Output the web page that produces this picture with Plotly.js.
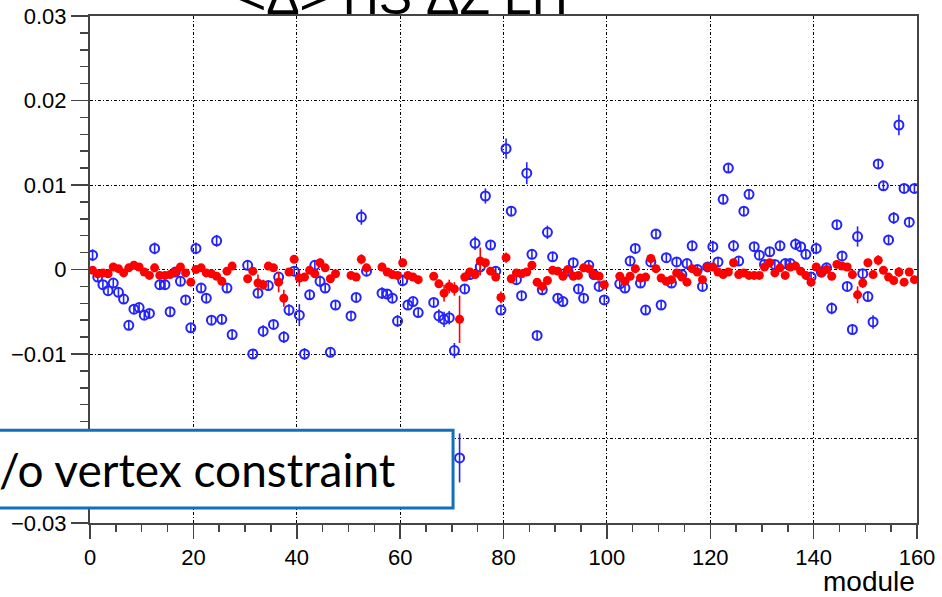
<!DOCTYPE html>
<html>
<head>
<meta charset="utf-8">
<script src="https://cdn.plot.ly/plotly-3.0.1.min.js"></script>
<style>
html,body{margin:0;padding:0;background:#fff;}
#chart{width:942px;height:597px;}
</style>
</head>
<body>
<div id="chart"></div>
<script>
// module bin centres (modules without entries are omitted)
const modules = [0,1,2,3,4,5,6,7,8,9,10,11,12,13,14,15,16,17,18,19,20,21,22,23,24,25,26,27,
  30,31,32,33,34,35,36,37,38,39,40,41,42,43,44,45,46,47,50,51,52,53,56,57,58,59,60,61,62,63,
  66,67,68,69,70,71,72,73,74,75,76,77,78,79,80,81,82,83,84,85,86,87,88,89,90,91,92,93,94,95,96,97,98,99,
  102,103,104,105,106,107,108,109,110,111,112,113,114,115,116,117,118,119,120,121,122,123,124,125,126,127,128,129,
  130,131,132,133,134,135,136,137,138,139,140,141,142,143,144,145,146,147,148,149,150,151,152,153,154,155,156,157,158,159];
const binCentres = modules.map(m => m + 0.5);

// with vertex constraint (red, filled)
const redValues = [-0.0001,-0.0005,-0.0004,-0.0005,0.0003,0.0001,-0.0004,0.0002,0.0005,0.0003,-0.0003,-0.0007,0.0002,-0.0007,-0.0007,-0.0006,-0.0003,0.0003,-0.0004,-0.0015,0.0000,0.0002,-0.0004,-0.0005,-0.0008,-0.0014,-0.0002,0.0004,
  -0.0011,-0.0002,-0.0016,-0.0018,0.0004,0.0002,-0.0015,-0.0034,-0.0003,0.0012,-0.0010,-0.0009,-0.0001,-0.0005,0.0008,0.0002,-0.0011,-0.0005,-0.0007,-0.0009,0.0012,0.0002,0.0003,-0.0003,-0.0006,-0.0007,0.0008,-0.0007,-0.0009,-0.0012,
  -0.0008,-0.0017,-0.0028,-0.0020,-0.0023,-0.0059,-0.0009,-0.0003,-0.0006,0.0010,0.0008,-0.0002,-0.0009,-0.0033,0.0014,-0.0011,-0.0004,-0.0005,-0.0003,0.0005,-0.0015,-0.0020,-0.0013,-0.0001,-0.0002,-0.0008,0.0000,-0.0008,-0.0007,0.0002,0.0001,-0.0006,-0.0008,-0.0018,
  -0.0008,-0.0014,-0.0008,0.0001,-0.0010,-0.0009,0.0013,0.0001,-0.0010,-0.0014,-0.0012,-0.0004,-0.0009,-0.0015,0.0001,-0.0003,-0.0012,0.0003,0.0003,-0.0003,-0.0006,-0.0003,0.0008,-0.0006,-0.0004,-0.0007,-0.0007,-0.0007,
  0.0003,0.0008,-0.0004,0.0002,-0.0007,0.0003,0.0004,-0.0002,-0.0007,-0.0015,0.0003,-0.0004,0.0000,-0.0008,0.0006,0.0004,0.0003,-0.0006,-0.0030,-0.0016,0.0008,-0.0006,0.0011,-0.0001,-0.0009,-0.0013,-0.0003,-0.0015,-0.0003,-0.0012];
const redErrors = [0.0003,0.0003,0.0003,0.0003,0.0003,0.0003,0.0003,0.0003,0.0003,0.0003,0.0003,0.0003,0.0005,0.0003,0.0003,0.0003,0.0003,0.0003,0.0003,0.0003,0.0003,0.0003,0.0003,0.0003,0.0003,0.0004,0.0003,0.0004,
  0.0003,0.0003,0.0010,0.0006,0.0003,0.0003,0.0012,0.0010,0.0003,0.0004,0.0010,0.0004,0.0003,0.0003,0.0005,0.0003,0.0004,0.0003,0.0003,0.0003,0.0006,0.0003,0.0005,0.0003,0.0003,0.0003,0.0005,0.0003,0.0003,0.0003,
  0.0004,0.0005,0.0010,0.0008,0.0008,0.0028,0.0003,0.0003,0.0003,0.0016,0.0004,0.0003,0.0003,0.0007,0.0006,0.0003,0.0003,0.0003,0.0003,0.0004,0.0004,0.0004,0.0004,0.0003,0.0003,0.0003,0.0003,0.0003,0.0003,0.0003,0.0003,0.0003,0.0003,0.0004,
  0.0003,0.0004,0.0003,0.0003,0.0004,0.0003,0.0004,0.0003,0.0003,0.0003,0.0004,0.0003,0.0004,0.0003,0.0003,0.0003,0.0003,0.0003,0.0003,0.0003,0.0003,0.0003,0.0003,0.0003,0.0003,0.0003,0.0004,0.0004,
  0.0003,0.0003,0.0003,0.0003,0.0003,0.0003,0.0003,0.0003,0.0003,0.0005,0.0003,0.0003,0.0003,0.0004,0.0003,0.0003,0.0003,0.0004,0.0010,0.0006,0.0004,0.0003,0.0006,0.0003,0.0003,0.0003,0.0006,0.0003,0.0003,0.0003];

// without vertex constraint (blue, open)
const blueValues = [0.0017,-0.0009,-0.0018,-0.0025,-0.0016,-0.0027,-0.0035,-0.0066,-0.0047,-0.0045,-0.0054,-0.0052,0.0025,-0.0018,-0.0018,-0.0050,-0.0003,-0.0014,-0.0036,-0.0069,0.0025,-0.0022,-0.0034,-0.0060,0.0034,-0.0059,-0.0022,-0.0077,
  0.0005,-0.0100,-0.0028,-0.0073,-0.0019,-0.0065,-0.0009,-0.0080,-0.0048,-0.0002,-0.0054,-0.0100,-0.0030,0.0005,-0.0014,-0.0022,-0.0098,-0.0042,-0.0055,-0.0033,0.0062,-0.0002,-0.0028,-0.0029,-0.0034,-0.0061,-0.0013,-0.0042,-0.0038,-0.0051,
  -0.0039,-0.0055,-0.0059,-0.0057,-0.0096,-0.0223,-0.0023,-0.0006,0.0031,0.0003,0.0087,0.0029,-0.0002,-0.0048,0.0143,0.0069,-0.0012,-0.0031,0.0114,0.0018,-0.0078,-0.0024,0.0044,0.0015,-0.0034,-0.0038,-0.0002,0.0008,-0.0023,-0.0034,0.0005,-0.0006,-0.0020,-0.0036,
  -0.0017,-0.0022,0.0010,0.0025,-0.0016,-0.0048,0.0009,0.0042,-0.0042,0.0014,-0.0016,0.0009,-0.0006,0.0007,0.0028,0.0000,-0.0020,0.0003,0.0027,0.0009,0.0083,0.0120,0.0028,0.0010,0.0069,0.0089,0.0027,0.0017,
  0.0006,0.0021,0.0006,0.0028,0.0007,0.0007,0.0030,0.0027,0.0018,-0.0009,0.0025,-0.0003,0.0002,-0.0046,0.0053,0.0016,-0.0020,-0.0071,0.0039,-0.0005,-0.0032,-0.0062,0.0125,0.0099,0.0035,0.0061,0.0171,0.0096,0.0056,0.0096];
const blueErrors = [0.0007,0.0005,0.0005,0.0005,0.0005,0.0005,0.0005,0.0005,0.0005,0.0005,0.0005,0.0005,0.0007,0.0005,0.0005,0.0005,0.0005,0.0005,0.0005,0.0005,0.0007,0.0005,0.0005,0.0005,0.0007,0.0006,0.0005,0.0005,
  0.0005,0.0005,0.0005,0.0007,0.0005,0.0005,0.0005,0.0007,0.0007,0.0005,0.0013,0.0007,0.0005,0.0005,0.0007,0.0005,0.0005,0.0005,0.0005,0.0005,0.0009,0.0006,0.0007,0.0005,0.0005,0.0007,0.0007,0.0005,0.0005,0.0005,
  0.0005,0.0008,0.0009,0.0008,0.0009,0.0029,0.0005,0.0005,0.0008,0.0010,0.0009,0.0005,0.0005,0.0005,0.0012,0.0005,0.0005,0.0005,0.0013,0.0005,0.0005,0.0005,0.0008,0.0005,0.0005,0.0005,0.0005,0.0005,0.0005,0.0005,0.0005,0.0005,0.0005,0.0005,
  0.0005,0.0005,0.0005,0.0005,0.0005,0.0005,0.0005,0.0005,0.0005,0.0005,0.0005,0.0005,0.0005,0.0005,0.0005,0.0005,0.0005,0.0005,0.0007,0.0005,0.0005,0.0005,0.0007,0.0005,0.0005,0.0005,0.0005,0.0005,
  0.0005,0.0005,0.0005,0.0005,0.0005,0.0005,0.0007,0.0005,0.0005,0.0005,0.0007,0.0005,0.0005,0.0007,0.0005,0.0005,0.0005,0.0005,0.0012,0.0005,0.0005,0.0008,0.0005,0.0005,0.0005,0.0007,0.0012,0.0005,0.0005,0.0005];

const xTickVals = [0,20,40,60,80,100,120,140,160];
const xTickText = ['0','20','40','60','80','100','120','140','160'];
const yTickVals = [-0.03,-0.02,-0.01,0,0.01,0.02,0.03];
const yTickText = ['\u22120.03','\u22120.02','\u22120.01','0','0.01','0.02','0.03'];

const titleText = '<\u0394> HS \u0394Z LH';
const xLabel = 'module';
const boxLabel = 'w/o vertex constraint';

const traces = [
  {
    x: binCentres, y: blueValues, type: 'scatter', mode: 'markers',
    marker: {symbol: 'circle-open', size: 9, color: 'rgb(35,35,255)', line: {width: 2, color: 'rgb(35,35,255)'}},
    error_y: {type: 'data', array: blueErrors, visible: true, color: 'rgb(35,35,255)', thickness: 1.6, width: 0},
    hoverinfo: 'x+y'
  },
  {
    x: binCentres, y: redValues, type: 'scatter', mode: 'markers',
    marker: {symbol: 'circle', size: 9, color: 'rgb(255,0,0)'},
    error_y: {type: 'data', array: redErrors, visible: true, color: 'rgb(255,0,0)', thickness: 1.6, width: 0},
    hoverinfo: 'x+y'
  }
];

const gridDash = '3px,2px,1px,2px';
const layout = {
  width: 942, height: 597,
  margin: {l: 90, r: 25, t: 16, b: 74, pad: 0},
  paper_bgcolor: '#ffffff', plot_bgcolor: '#ffffff',
  showlegend: false,
  font: {family: 'Liberation Sans, Arial, sans-serif', size: 22, color: '#000'},
  xaxis: {
    range: [0, 160], tickmode: 'array', tickvals: xTickVals, ticktext: xTickText,
    ticks: 'outside', ticklen: 14, tickwidth: 1.5, tickcolor: '#444',
    showline: true, linecolor: '#444', linewidth: 2, mirror: true,
    showgrid: true, gridcolor: '#000', gridwidth: 1, griddash: gridDash,
    zeroline: false,
    minor: {dtick: 5, ticks: 'outside', ticklen: 7, tickwidth: 1.5, tickcolor: '#444', showgrid: false},
    tickfont: {size: 22, color: '#000'}
  },
  yaxis: {
    range: [-0.03, 0.03], tickmode: 'array', tickvals: yTickVals, ticktext: yTickText,
    ticks: 'outside', ticklen: 17, tickwidth: 1.5, tickcolor: '#444',
    showline: true, linecolor: '#444', linewidth: 2, mirror: true,
    showgrid: true, gridcolor: '#000', gridwidth: 1, griddash: gridDash,
    zeroline: false,
    minor: {dtick: 0.002, ticks: 'outside', ticklen: 8.5, tickwidth: 1.5, tickcolor: '#444', showgrid: false},
    tickfont: {size: 22, color: '#000'}
  },
  shapes: [
    {type: 'rect', xref: 'paper', yref: 'paper', x0: -0.13, x1: 0.439, y0: 0.0296, y1: 0.1828,
     line: {color: 'rgb(20,110,190)', width: 3}, fillcolor: '#ffffff', layer: 'above'}
  ],
  annotations: [
    {text: titleText, xref: 'paper', yref: 'paper', x: 0.378, y: 1, xanchor: 'center', yanchor: 'bottom',
     yshift: -11, showarrow: false, font: {family: 'Liberation Sans, Arial, sans-serif', size: 50, color: '#000'}},
    {text: xLabel, xref: 'paper', yref: 'paper', x: 1, y: -0.1466, xanchor: 'right', yanchor: 'bottom',
     yshift: -2, showarrow: false, font: {family: 'Liberation Sans, Arial, sans-serif', size: 28, color: '#000'}},
    {text: boxLabel, xref: 'paper', yref: 'paper', x: 0.372, y: 0.106, xanchor: 'right', yanchor: 'middle',
     showarrow: false, font: {family: 'Lato, sans-serif', size: 46, color: '#000'}}
  ]
};

Plotly.newPlot('chart', traces, layout, {staticPlot: true, displayModeBar: false});
</script>
</body>
</html>
